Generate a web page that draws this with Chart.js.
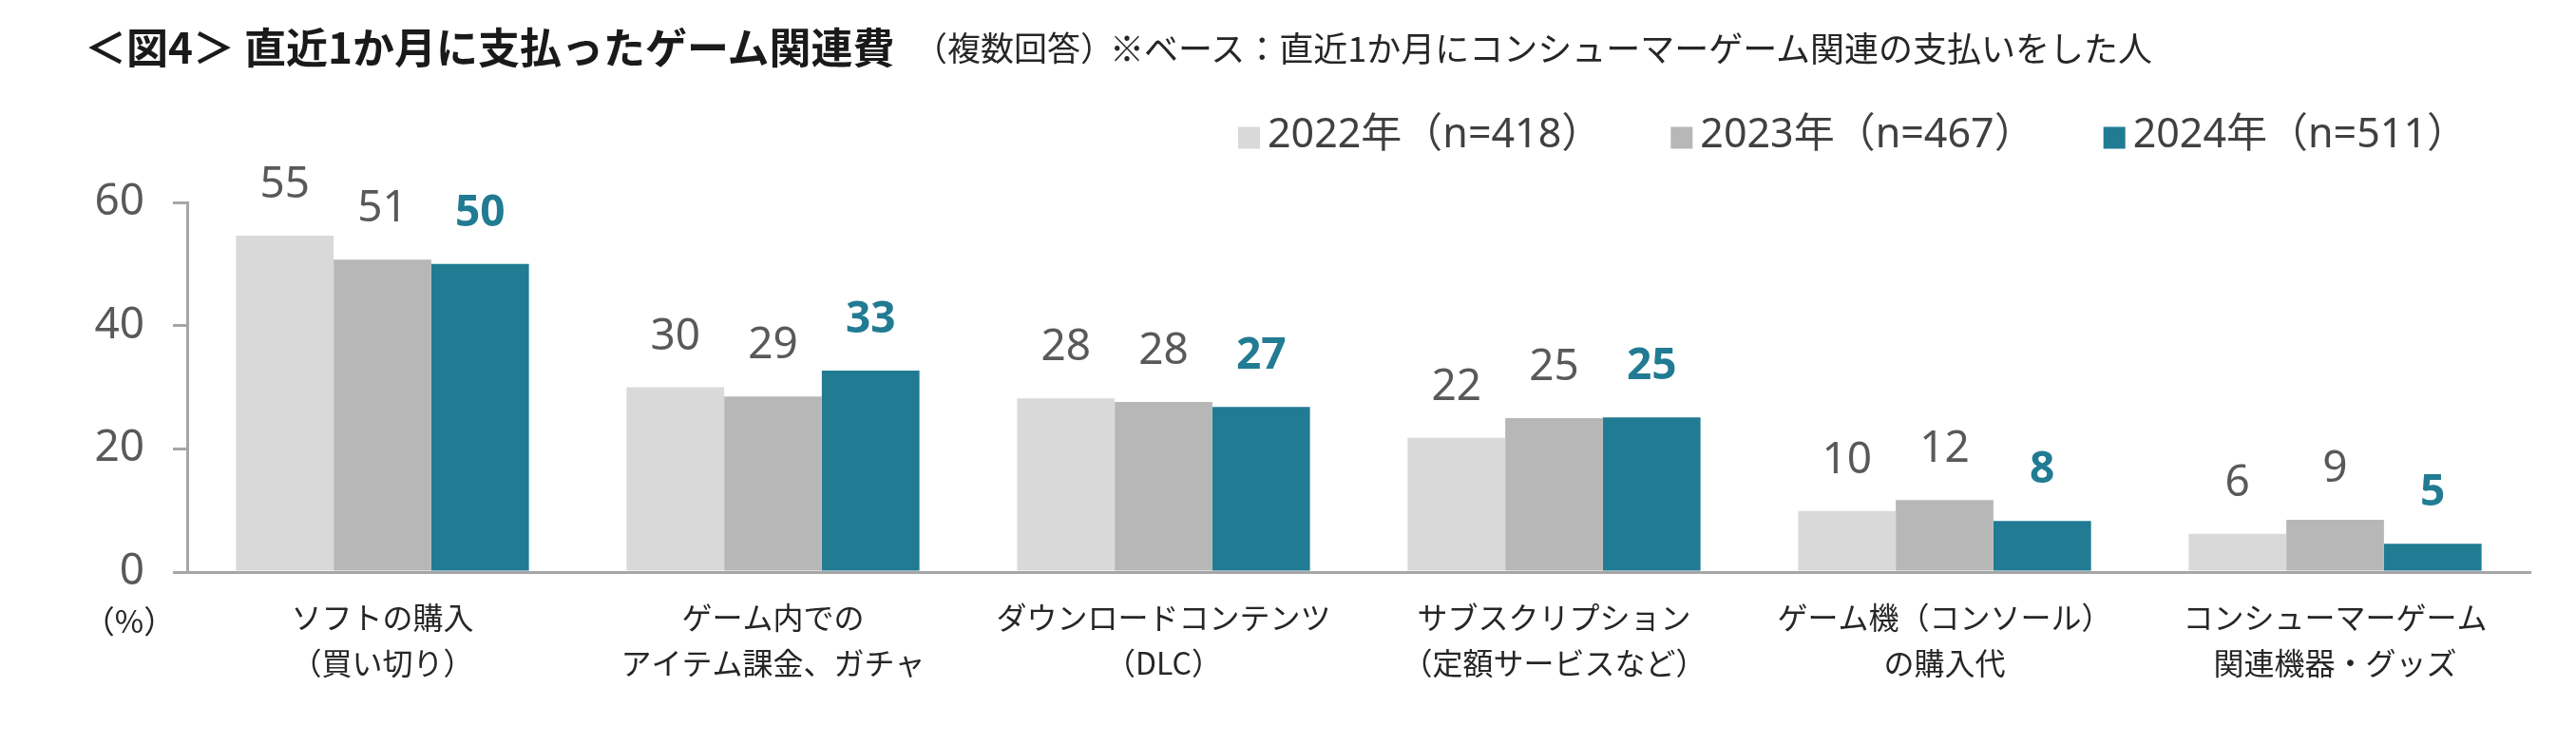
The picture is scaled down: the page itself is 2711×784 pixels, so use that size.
<!DOCTYPE html>
<html lang="ja">
<head>
<meta charset="utf-8">
<title>図4 直近1か月に支払ったゲーム関連費</title>
<script src="https://cdn.jsdelivr.net/npm/chart.js@4.4.1/dist/chart.umd.min.js"></script>
<style>
    body {
        margin: 0;
        background: #ffffff;
        overflow: hidden;
        font-family: "Noto Sans CJK JP", sans-serif;
    }
    #wrap {
        position: relative;
        width: 2711px;
        height: 784px;
    }
    .title {
        position: absolute;
        top: 24px;
        left: 89px;
        font-size: 44px;
        font-weight: bold;
        line-height: 48px;
        color: #1a1a1a;
        white-space: nowrap;
    }
    .note {
        position: absolute;
        top: 29px;
        font-size: 36px;
        line-height: 40px;
        color: #262626;
        white-space: nowrap;
    }
    .unit {
        position: absolute;
        left: 136px;
        top: 652px;
        transform: translate(-50%, -50%);
        font-size: 33px;
        color: #262626;
        white-space: nowrap;
    }
</style>
</head>
<body>
<div id="wrap">
    <canvas id="paymentChart" width="2711" height="784"></canvas>
    <div class="title">＜図4＞ 直近1か月に支払ったゲーム関連費</div>
    <div class="note" style="left: 962px; font-size: 35px;">（複数回答）</div>
    <div class="note" style="left: 1168px;">※ベース：直近1か月にコンシューマーゲーム関連の支払いをした人</div>
    <div class="unit">（%）</div>
</div>

<script>
// Data
const categories = [
    ['ソフトの購入', '（買い切り）'],
    ['ゲーム内での', 'アイテム課金、ガチャ'],
    ['ダウンロードコンテンツ', '（DLC）'],
    ['サブスクリプション', '（定額サービスなど）'],
    ['ゲーム機（コンソール）', 'の購入代'],
    ['コンシューマーゲーム', '関連機器・グッズ'],
];
const seriesNames = ['2022年（n=418）', '2023年（n=467）', '2024年（n=511）'];
const values2022 = [54.6, 30.0, 28.2, 21.8, 9.9, 6.2];
const values2023 = [50.7, 28.5, 27.6, 25.0, 11.7, 8.5];
const values2024 = [50.0, 32.7, 26.8, 25.1, 8.3, 4.6];
const yTicks = [0, 20, 40, 60];

const colors = ['#D9D9D9', '#B7B7B7', '#217B93'];
const numFont = '"Noto Sans", "Noto Sans CJK JP", sans-serif';

// Value labels above every bar (2024 in bold teal)
const valueLabels = {
    id: 'valueLabels',
    afterDatasetsDraw(chart) {
        const ctx = chart.ctx;
        ctx.save();
        ctx.textAlign = 'center';
        ctx.textBaseline = 'alphabetic';
        chart.data.datasets.forEach((ds, i) => {
            const meta = chart.getDatasetMeta(i);
            const latest = i === chart.data.datasets.length - 1;
            ctx.font = (latest ? 'bold ' : '') + '46px ' + numFont;
            ctx.fillStyle = latest ? '#217B93' : '#595959';
            meta.data.forEach((bar, j) => {
                ctx.fillText(Math.round(ds.data[j]), bar.x, bar.y - 40);
            });
        });
        ctx.restore();
    },
};

// Legend drawn top-right, right aligned
const topLegend = {
    id: 'topLegend',
    afterDraw(chart) {
        const ctx = chart.ctx;
        const box = 23;
        const textGap = 8;
        const itemGap = 72;
        let right = 2597;
        const centerY = 143;
        ctx.save();
        ctx.font = '43px ' + numFont;
        ctx.textBaseline = 'middle';
        ctx.textAlign = 'left';
        const items = chart.data.datasets.map(ds => ({
            text: ds.label,
            color: ds.backgroundColor,
            width: ctx.measureText(ds.label).width,
        }));
        for (let i = items.length - 1; i >= 0; i--) {
            const item = items[i];
            const textX = right - item.width;
            const boxX = textX - textGap - box;
            ctx.fillStyle = item.color;
            ctx.fillRect(boxX, centerY - box / 2 + 2, box, box);
            ctx.fillStyle = '#404040';
            ctx.fillText(item.text, textX, centerY);
            right = boxX - itemGap;
        }
        ctx.restore();
    },
};

const chart = new Chart(document.getElementById('paymentChart'), {
    type: 'bar',
    data: {
        labels: categories,
        datasets: [
            { label: seriesNames[0], data: values2022, backgroundColor: colors[0] },
            { label: seriesNames[1], data: values2023, backgroundColor: colors[1] },
            { label: seriesNames[2], data: values2024, backgroundColor: colors[2] },
        ],
    },
    options: {
        responsive: false,
        animation: false,
        devicePixelRatio: 1,
        layout: {
            padding: { left: 0, top: 213, right: 48, bottom: 0 },
        },
        datasets: {
            bar: {
                barPercentage: 1,
                categoryPercentage: 0.75,
                borderWidth: 0,
            },
        },
        plugins: {
            legend: { display: false },
            title: { display: false },
            tooltip: { enabled: false },
        },
        scales: {
            x: {
                grid: { display: false, drawTicks: false },
                border: { display: true, color: '#A6A6A6', width: 3 },
                ticks: {
                    padding: 24,
                    color: '#262626',
                    font: { family: '"Noto Sans CJK JP", sans-serif', size: 32, lineHeight: 1.5 },
                    maxRotation: 0,
                    autoSkip: false,
                },
                afterFit: scale => { scale.height = 182; },
            },
            y: {
                min: 0,
                max: 60,
                afterBuildTicks: scale => {
                    scale.ticks = yTicks.map(v => ({ value: v }));
                },
                grid: {
                    drawOnChartArea: false,
                    drawTicks: true,
                    tickLength: 15,
                    color: '#A6A6A6',
                    lineWidth: 3,
                },
                border: { display: true, color: '#A6A6A6', width: 3 },
                ticks: {
                    padding: 30,
                    color: '#595959',
                    font: { family: numFont, size: 46 },
                },
                afterFit: scale => { scale.width = 197; },
            },
        },
    },
    plugins: [valueLabels, topLegend],
});
</script>
</body>
</html>
